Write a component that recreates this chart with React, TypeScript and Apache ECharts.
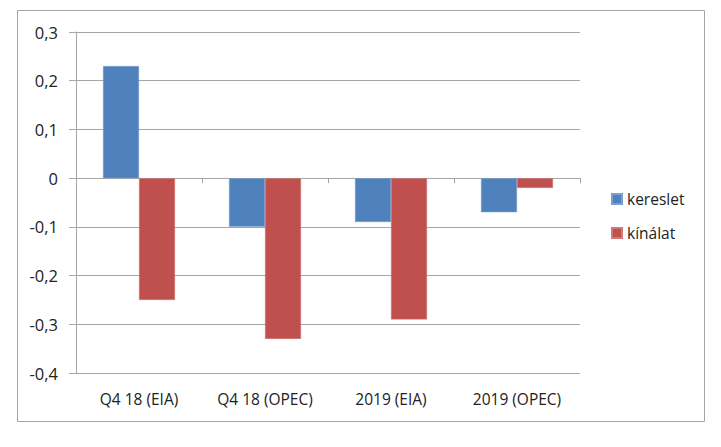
import React, { useEffect, useRef } from "react";
import * as echarts from "echarts";

const categories = ["Q4 18 (EIA)", "Q4 18 (OPEC)", "2019 (EIA)", "2019 (OPEC)"];
const kereslet = [0.23, -0.1, -0.09, -0.07];
const kinalat = [-0.25, -0.33, -0.29, -0.02];
const seriesNames = ["kereslet", "kínálat"];

const FONT = "'Open Sans', 'Noto Sans', sans-serif";

export default function App() {
  const ref = useRef<HTMLDivElement>(null);
  useEffect(() => {
    document.body.style.margin = "0";
    const chart = echarts.init(ref.current!, null, { renderer: "svg" });
    chart.setOption({
      animation: false,
      backgroundColor: "#ffffff",
      graphic: [
        {
          type: "rect",
          shape: { x: 17.5, y: 10.5, width: 687, height: 411 },
          style: { fill: "none", stroke: "#a6a6a6", lineWidth: 1 },
          silent: true,
        },
      ],
      grid: { left: 76, right: 141, top: 32, bottom: 74, containLabel: false },
      legend: {
        orient: "vertical",
        left: 611,
        top: 191,
        padding: 0,
        itemWidth: 10,
        itemHeight: 10,
        itemGap: 18,
        icon: "rect",
        textStyle: { fontFamily: FONT, fontSize: 15.5, color: "#222222", padding: [0, 0, 0, 0] },
        data: seriesNames,
      },
      xAxis: [
        {
          type: "category",
          data: categories,
          position: "bottom",
          axisLine: { show: false, onZero: false },
          axisTick: { show: false },
          axisLabel: {
            fontFamily: FONT,
            fontSize: 15.5,
            color: "#222222",
            margin: 18,
            interval: 0,
            hideOverlap: false,
          },
        },
        {
          type: "category",
          data: categories,
          position: "bottom",
          axisLine: { show: true, onZero: true, lineStyle: { color: "#a6a6a6", width: 1 } },
          axisTick: { show: true, alignWithLabel: false, length: 5, lineStyle: { color: "#a6a6a6" } },
          axisLabel: { show: false },
        },
      ],
      yAxis: {
        type: "value",
        min: -0.4,
        max: 0.3,
        interval: 0.1,
        axisLine: { show: true, lineStyle: { color: "#a6a6a6" } },
        axisTick: { show: true, length: 7, lineStyle: { color: "#a6a6a6" } },
        splitLine: { show: true, lineStyle: { color: "#a6a6a6", width: 1 } },
        axisLabel: {
          fontFamily: FONT,
          fontSize: 16.5,
          color: "#222222",
          margin: 18,
          formatter: (v: number) => {
            const r = Math.round(v * 10) / 10;
            if (r === 0) return "0";
            return r.toFixed(1).replace(".", ",");
          },
        },
      },
      series: [
        {
          name: seriesNames[0],
          type: "bar",
          xAxisIndex: 0,
          data: kereslet,
          barWidth: 36,
          barGap: "0%",
          itemStyle: { color: "#4F81BD", borderColor: "#7aa0d0", borderWidth: 0.5 },
        },
        {
          name: seriesNames[1],
          type: "bar",
          xAxisIndex: 0,
          data: kinalat,
          barWidth: 36,
          barGap: "0%",
          itemStyle: { color: "#C0504D", borderColor: "#d07a78", borderWidth: 0.5 },
        },
      ],
    });
    return () => chart.dispose();
  }, []);
  return <div ref={ref} style={{ width: 721, height: 447 }} />;
}
